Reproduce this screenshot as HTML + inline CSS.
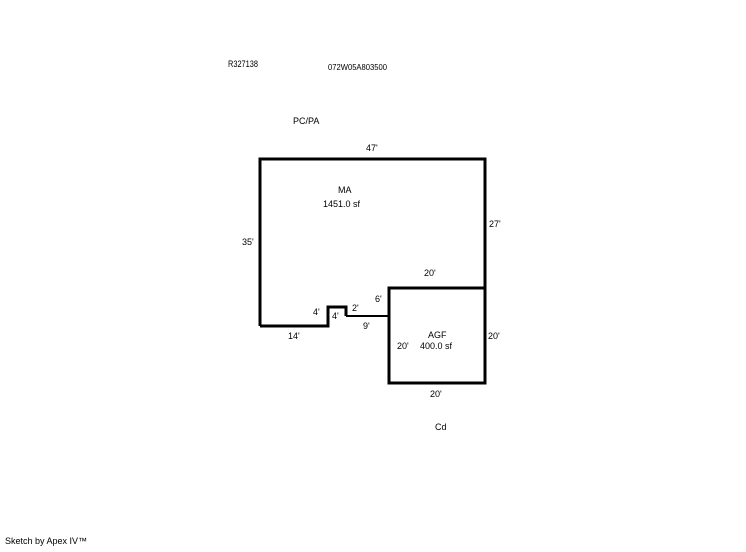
<!DOCTYPE html>
<html><head><style>
body{margin:0;background:#fff;}
svg text{font-family:"Liberation Sans",sans-serif;font-size:9px;fill:#000;}
</style></head><body>
<svg width="746" height="547" xmlns="http://www.w3.org/2000/svg">
<g fill="none" stroke="#000" stroke-width="3" stroke-linejoin="miter">
<polyline points="260,326 260,159 485,159 485,288"/>
<polyline points="260,326 328,326 328,307 346,307 346,316"/>
<rect x="389" y="288" width="96" height="95"/>
</g>
<line x1="346" y1="316" x2="389" y2="316" stroke="#000" stroke-width="2"/>
<text x="228" y="67" textLength="30" lengthAdjust="spacingAndGlyphs">R327138</text>
<text x="328" y="70" style="font-size:8px" textLength="59" lengthAdjust="spacingAndGlyphs">072W05A803500</text>
<text x="293" y="124">PC/PA</text>
<text x="366" y="151">47'</text>
<text x="338" y="193">MA</text>
<text x="323" y="207">1451.0 sf</text>
<text x="489" y="227">27'</text>
<text x="242" y="245">35'</text>
<text x="424" y="276">20'</text>
<text x="375" y="302">6'</text>
<text x="352" y="311">2'</text>
<text x="313" y="315">4'</text>
<text x="332" y="319">4'</text>
<text x="363" y="329">9'</text>
<text x="288" y="339">14'</text>
<text x="428" y="338">AGF</text>
<text x="420" y="349">400.0 sf</text>
<text x="397" y="349">20'</text>
<text x="488" y="339">20'</text>
<text x="430" y="397">20'</text>
<text x="435" y="430">Cd</text>
<text x="5" y="544">Sketch by Apex IV™</text>
</svg>
</body></html>
